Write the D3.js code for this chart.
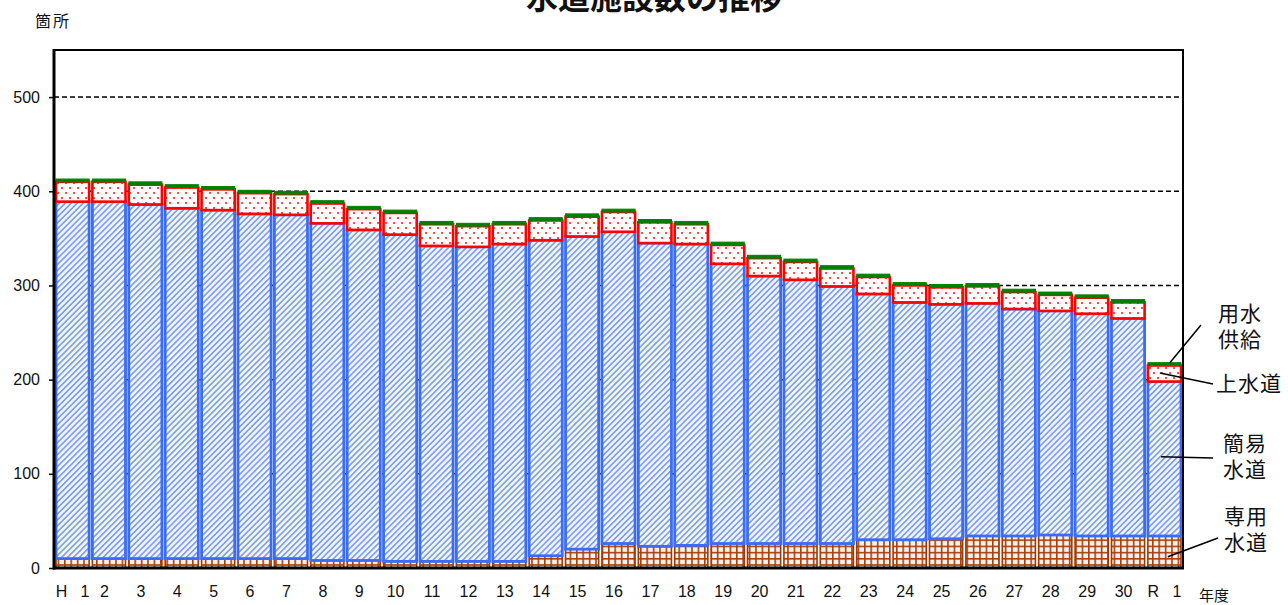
<!DOCTYPE html>
<html>
<head>
<meta charset="utf-8">
<script src="https://cdn.jsdelivr.net/npm/d3@7"></script>
<style>
  body { margin: 0; background: #fff; }
  svg { display: block; }
  text { font-family: "Liberation Sans", Arial, sans-serif; fill: #111; }
  .jp { font-family: "Noto Sans CJK JP", sans-serif; }
</style>
</head>
<body>
<svg width="1288" height="605"></svg>
<script>
"use strict";

// 年度 (H1 .. H30, R1)
const years = ["H 1", "2", "3", "4", "5", "6", "7", "8", "9", "10", "11", "12", "13", "14", "15",
  "16", "17", "18", "19", "20", "21", "22", "23", "24", "25", "26", "27", "28", "29", "30", "R 1"];

// values (箇所)
const senyo = [10, 10, 10, 10, 10, 10, 10, 8, 8, 7, 7, 7, 7, 13, 20, 26, 23, 24, 26, 26, 26, 26, 30, 30, 31, 34, 34, 35, 34, 34, 34];
const kani = [379, 379, 376, 372, 370, 366, 365, 358, 351, 347, 335, 334, 337, 335, 332, 331, 322, 320, 297, 284, 280, 273, 261, 252, 249, 247, 241, 238, 236, 231, 164];
const josui = [21, 21, 21, 22, 22, 22, 22, 21, 22, 23, 23, 22, 21, 21, 21, 21, 22, 21, 20, 19, 19, 19, 18, 18, 18, 18, 18, 17, 17, 17, 17];
const yosui = [3, 3, 3, 3, 3, 3, 3, 3, 3, 3, 3, 3, 3, 3, 3, 3, 3, 3, 3, 3, 3, 3, 3, 3, 3, 3, 3, 3, 3, 3, 3];

const yTicks = [0, 100, 200, 300, 400, 500];
const seriesKeys = ["senyo", "kani", "josui", "yosui"];

window.addEventListener("load", drawChart);

function drawChart() {
  const svg = d3.select("svg");
  const plot = { left: 54, right: 1183, top: 50, bottom: 568 };

  const table = years.map((yr, i) => ({
    year: yr, senyo: senyo[i], kani: kani[i], josui: josui[i], yosui: yosui[i]
  }));

  const x = d3.scaleBand()
    .domain(years)
    .range([plot.left, plot.right])
    .paddingInner(0.09)
    .paddingOuter(0.055);

  const y = d3.scaleLinear()
    .domain([0, 550])
    .range([plot.bottom, plot.top]);

  // patterns
  const defs = svg.append("defs");

  const pBlue = defs.append("pattern")
    .attr("id", "pBlue").attr("patternUnits", "userSpaceOnUse")
    .attr("width", 4.2).attr("height", 4.2)
    .attr("patternTransform", "rotate(45)");
  pBlue.append("rect").attr("width", 4.2).attr("height", 4.2).attr("fill", "#f3f6fe");
  pBlue.append("rect").attr("width", 1.7).attr("height", 4.2).attr("fill", "#7ea1f2");

  const pRed = defs.append("pattern")
    .attr("id", "pRed").attr("patternUnits", "userSpaceOnUse")
    .attr("width", 8).attr("height", 10);
  pRed.append("rect").attr("width", 8).attr("height", 10).attr("fill", "#fff");
  pRed.append("rect").attr("x", 1).attr("y", 2).attr("width", 2).attr("height", 2).attr("fill", "#ff4d4d");
  pRed.append("rect").attr("x", 5).attr("y", 7).attr("width", 2).attr("height", 2).attr("fill", "#ff4d4d");

  const pBrown = defs.append("pattern")
    .attr("id", "pBrown").attr("patternUnits", "userSpaceOnUse")
    .attr("width", 6.4).attr("height", 6.2);
  pBrown.append("rect").attr("width", 6.4).attr("height", 6.2).attr("fill", "#fcf2ed");
  pBrown.append("rect").attr("width", 6.4).attr("height", 1.6).attr("fill", "#a7410c");
  pBrown.append("rect").attr("width", 1.6).attr("height", 6.2).attr("fill", "#a7410c");

  const styles = {
    senyo: { fill: "url(#pBrown)", stroke: "#9a3906", sw: 1.6 },
    kani: { fill: "url(#pBlue)", stroke: "#3b6cf5", sw: 2.8 },
    josui: { fill: "url(#pRed)", stroke: "#ff0000", sw: 2.6 },
    yosui: { fill: "#008000", stroke: "#008000", sw: 1 }
  };

  // dashed grid behind bars
  svg.append("g")
    .selectAll("line")
    .data(yTicks.filter((d) => d > 0))
    .enter()
    .append("line")
    .attr("x1", plot.left).attr("x2", plot.right)
    .attr("y1", (d) => y(d)).attr("y2", (d) => y(d))
    .attr("stroke", "#000")
    .attr("stroke-width", 1.5)
    .attr("stroke-dasharray", "5,3");

  const stack = d3.stack().keys(seriesKeys)(table);

  svg.append("g")
    .selectAll("g")
    .data(stack)
    .enter()
    .append("g")
    .each(function (layer) {
      const st = styles[layer.key];
      d3.select(this)
        .selectAll("rect")
        .data(layer)
        .enter()
        .append("rect")
        .attr("x", (d) => x(d.data.year))
        .attr("width", x.bandwidth())
        .attr("y", (d) => y(d[1]))
        .attr("height", (d) => y(d[0]) - y(d[1]))
        .attr("fill", st.fill)
        .attr("stroke", st.stroke)
        .attr("stroke-width", st.sw);
    });

  // y axis ticks + labels
  const yAxis = svg.append("g")
    .attr("transform", `translate(${plot.left},0)`)
    .call(d3.axisLeft(y).tickValues(yTicks).tickSize(5).tickSizeOuter(0).tickPadding(9));
  yAxis.select(".domain").remove();
  yAxis.selectAll(".tick line").attr("stroke", "#000").attr("stroke-width", 1.5);
  yAxis.selectAll(".tick text")
    .style("font-size", "16px")
    .style("font-family", '"Liberation Sans", Arial, sans-serif')
    .attr("fill", "#111");

  // x labels
  svg.append("g")
    .selectAll("text")
    .data(years)
    .enter()
    .append("text")
    .attr("x", (d) => x(d) + x.bandwidth() / 2 + (d.includes(" ") ? 0 : -4.5))
    .attr("y", 597)
    .attr("text-anchor", "middle")
    .style("font-size", "16px")
    .text((d) => d.replace(" ", "\u00a0\u00a0\u00a0"));

  // frame
  svg.append("rect")
    .attr("x", plot.left).attr("y", plot.top)
    .attr("width", plot.right - plot.left).attr("height", plot.bottom - plot.top)
    .attr("fill", "none").attr("stroke", "#000").attr("stroke-width", 2);
  svg.append("line")
    .attr("x1", plot.left).attr("x2", plot.left)
    .attr("y1", plot.top - 1).attr("y2", plot.bottom + 1.5)
    .attr("stroke", "#000").attr("stroke-width", 3);
  svg.append("line")
    .attr("x1", plot.left - 1).attr("x2", plot.right + 1)
    .attr("y1", plot.bottom).attr("y2", plot.bottom)
    .attr("stroke", "#000").attr("stroke-width", 3);

  // titles
  svg.append("text")
    .attr("class", "jp")
    .attr("x", 654).attr("y", 9)
    .attr("text-anchor", "middle")
    .style("font-size", "32px").style("font-weight", "bold")
    .text("水道施設数の推移");

  svg.append("text")
    .attr("class", "jp")
    .attr("x", 35).attr("y", 27)
    .style("font-size", "16px").style("letter-spacing", "2px")
    .text("箇所");

  svg.append("text")
    .attr("class", "jp")
    .attr("x", 1199).attr("y", 601)
    .style("font-size", "15px")
    .text("年度");

  // right-hand series labels with leader lines
  const last = years.length - 1;
  const lx = x(years[last]);
  const cum = (k) => seriesKeys.slice(0, k + 1).reduce((s, key) => s + table[last][key], 0);

  const notes = [
    { lines: ["用水", "供給"], tx: 1218, ty: 321, from: [lx + 22, y(cum(3))], to: [1201, 325] },
    { lines: ["上水道"], tx: 1216, ty: 391, from: [lx + 12, y(cum(2) - 8)], to: [1213, 384] },
    { lines: ["簡易", "水道"], tx: 1223, ty: 451, from: [lx + 13, y(118)], to: [1213, 458] },
    { lines: ["専用", "水道"], tx: 1224, ty: 524, from: [lx + 20, y(12)], to: [1218, 538] }
  ];

  const g = svg.append("g");
  notes.forEach((n) => {
    g.append("line")
      .attr("x1", n.from[0]).attr("y1", n.from[1])
      .attr("x2", n.to[0]).attr("y2", n.to[1])
      .attr("stroke", "#000").attr("stroke-width", 1.5);
    n.lines.forEach((t, i) => {
      g.append("text")
        .attr("class", "jp")
        .attr("x", n.tx).attr("y", n.ty + i * 26)
        .style("font-size", "21px").style("letter-spacing", "1px")
        .text(t);
    });
  });
}
</script>
</body>
</html>
